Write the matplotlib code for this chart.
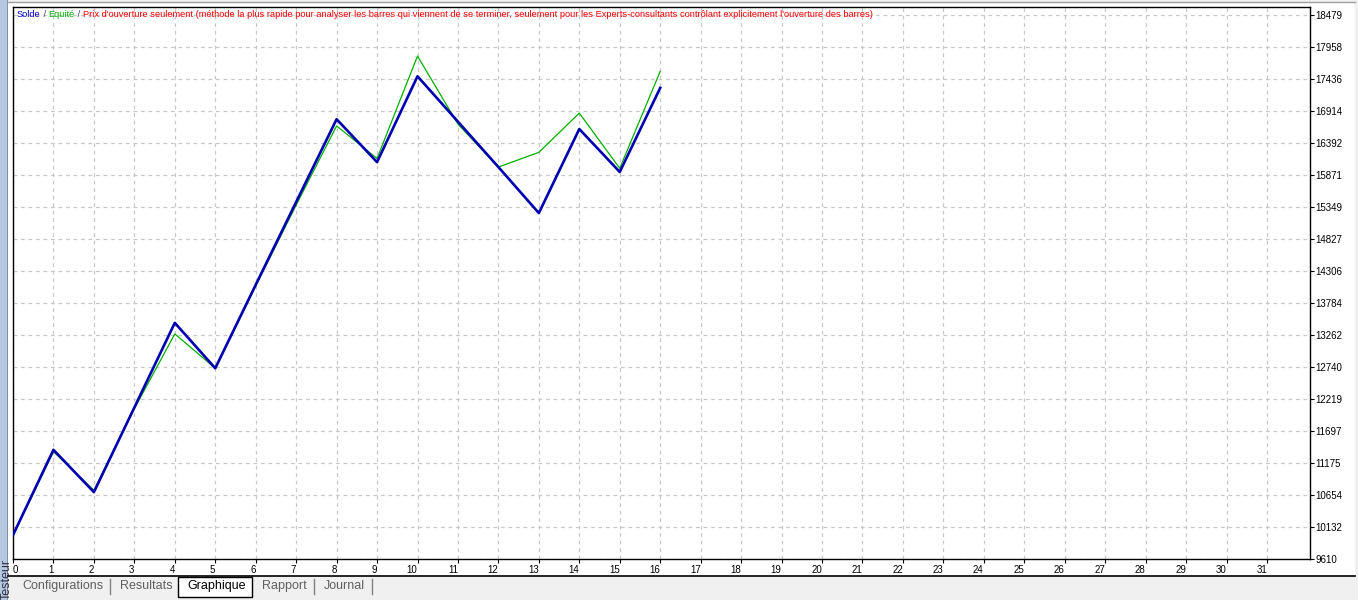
import matplotlib
matplotlib.use("Agg")
import matplotlib.pyplot as plt
from matplotlib.patches import Rectangle

plt.rcParams['font.family'] = ['Liberation Sans', 'DejaVu Sans']

# ---- data ----
trades = list(range(17))
solde = [10000, 11390, 10700, 12080, 13460, 12720, 14080, 15430, 16780,
         16080, 17480, 16740, 16000, 15250, 16620, 15920, 17290]
equite = [10000, 11360, 10730, 12060, 13280, 12720, 14060, 15380, 16670,
          16140, 17810, 16700, 16000, 16240, 16880, 15980, 17560]
ytick_labels = [18479, 17958, 17436, 16914, 16392, 15871, 15349, 14827, 14306,
                13784, 13262, 12740, 12219, 11697, 11175, 10654, 10132, 9610]
xtick_labels = list(range(32))
tabs = ["Configurations", "Resultats", "Graphique", "Rapport", "Journal"]
header_parts = [("Solde", "#0000c8"), (" / ", "#404060"), ("Equité", "#00b000"),
                (" / ", "#404060"),
                ("Prix d'ouverture seulement (méthode la plus rapide pour analyser les barres qui "
                 "viennent de se terminer, seulement pour les Experts-consultants contrôlant "
                 "explicitement l'ouverture des barres)", "#ff0000")]

W, H = 1358, 600
fig = plt.figure(figsize=(W / 100, H / 100), dpi=100)
fig.patch.set_facecolor("#f0f0f0")

def fx(px):
    return px / W

def fy(py):
    return 1 - py / H

# white chart panel
fig.patches.append(Rectangle((fx(8), fy(576)), fx(1355) - fx(8), fy(3) - fy(576),
                             transform=fig.transFigure, facecolor="white",
                             edgecolor="none", zorder=-5))
# left blue strip
fig.patches.append(Rectangle((0, 0), fx(7), 1, transform=fig.transFigure,
                             facecolor="#b4c8e0", edgecolor="none", zorder=-5))
fig.patches.append(Rectangle((fx(7), 0), fx(1), 1, transform=fig.transFigure,
                             facecolor="#8090a8", edgecolor="none", zorder=-5))
fig.lines.append(plt.Line2D([fx(8), fx(1355)], [fy(576), fy(576)], transform=fig.transFigure,
                            color="black", lw=1.2, zorder=-4))
fig.lines.append(plt.Line2D([fx(8), fx(1355)], [fy(2), fy(2)], transform=fig.transFigure,
                            color="#a0a0a0", lw=1.0, zorder=-4))

ax = fig.add_axes([fx(13), fy(559), fx(1310) - fx(13), fy(7) - fy(559)])
ax.set_zorder(5)
ax.set_facecolor("white")
ymin, ymax = 9610, 9610 + 552 * (18479 - 9610) / 17 / 32
ax.set_ylim(ymin, ymax)
ax.set_xlim(0, (1310 - 13) / 40.45)

ax.plot(trades, equite, color="#00b000", lw=0.9, zorder=3)
ax.plot(trades, solde, color="#0000b0", lw=1.9, zorder=4)

ax.yaxis.tick_right()
ax.set_yticks(ytick_labels)
ax.set_yticklabels([str(v) for v in ytick_labels], fontsize=7, color="black")
ax.set_xticks(xtick_labels)
ax.set_xticklabels([str(v) for v in xtick_labels], fontsize=7, color="black")
ax.tick_params(axis="y", direction="out", length=3, pad=1, width=0.8)
ax.tick_params(axis="x", direction="out", length=3, pad=1, width=0.8)
for i, lab in enumerate(ax.get_xticklabels()):
    lab.set_horizontalalignment("left" if i == 0 else "right")

ax.grid(True, color="#c8c8c8", linestyle=(0, (3, 3)), lw=0.9)
ax.set_axisbelow(True)
for s in ax.spines.values():
    s.set_color("black")
    s.set_linewidth(1.0)

# header text
prev = None
for txt, col in header_parts:
    if prev is None:
        prev = ax.text(fx(17), fy(10), txt, color=col, fontsize=6.7,
                       transform=fig.transFigure, va="top", ha="left", zorder=6)
    else:
        prev = ax.annotate(txt, xy=(1, 0), xycoords=prev, xytext=(0, 0),
                           textcoords="offset points", color=col, fontsize=6.7,
                           va="bottom", ha="left", zorder=6)

# tabs
tab_x = [22, 120, 187, 262, 324]
fig.patches.append(Rectangle((fx(178), fy(597)), fx(252) - fx(178), fy(577) - fy(597),
                             transform=fig.transFigure, facecolor="white",
                             edgecolor="black", lw=1.0, zorder=2))
for name, x in zip(tabs, tab_x):
    fig.text(fx(x), fy(586), name, fontsize=9,
             color="black" if name == "Graphique" else "#606060",
             ha="left", va="center", zorder=3)
for x in [110, 314, 372]:
    fig.lines.append(plt.Line2D([fx(x), fx(x)], [fy(579), fy(594)], transform=fig.transFigure,
                                color="#808080", lw=1.0))

fig.text(fx(1), fy(600), "Testeur", rotation=90, fontsize=9, color="#303040",
         ha="left", va="bottom")

fig.savefig("out.png", dpi=100)
